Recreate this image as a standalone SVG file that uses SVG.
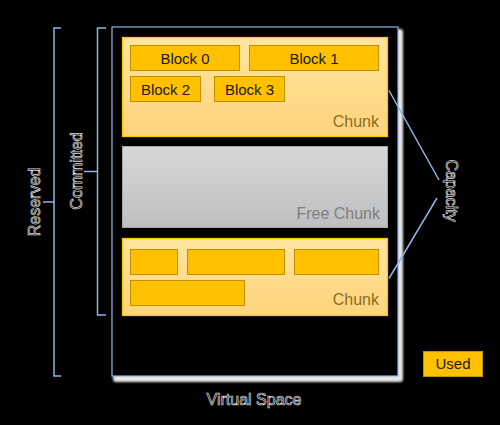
<svg xmlns="http://www.w3.org/2000/svg" width="500" height="425" viewBox="0 0 500 425">
<defs>
<linearGradient id="gChunk" x1="0" y1="0" x2="0" y2="1">
<stop offset="0" stop-color="#FFE4A0"/>
<stop offset="1" stop-color="#FFD47C"/>
</linearGradient>
<linearGradient id="gFree" x1="0" y1="0" x2="0" y2="1">
<stop offset="0" stop-color="#D6D7D8"/>
<stop offset="1" stop-color="#BEBFC0"/>
</linearGradient>
<filter id="blur" x="-5%" y="-5%" width="110%" height="110%">
<feGaussianBlur stdDeviation="1.2"/>
</filter>
</defs>
<style>
.chunk{fill:url(#gChunk);stroke:#FFC000;stroke-width:1.3}
.free{fill:url(#gFree);stroke:#A6A6A6;stroke-width:1}
.block{fill:#FFC000;stroke:#BF9000;stroke-width:1}
.btxt{font-family:"Liberation Sans",Arial,sans-serif;font-size:15px;fill:#1A1A1A;text-anchor:middle}
.ctxt{font-family:"Liberation Sans",Arial,sans-serif;font-size:16px;fill:#8A6D1E;text-anchor:end}
.ftxt{font-family:"Liberation Sans",Arial,sans-serif;font-size:16px;fill:#7F7F7F;text-anchor:end}
.otxt{font-family:"Liberation Sans",Arial,sans-serif;font-size:16px;fill:#000;stroke:#D9D9D9;stroke-width:0.7;text-anchor:middle}
.conn{fill:none;stroke:#8EB4E3;stroke-width:1.5}
</style>
<rect width="500" height="425" fill="#000"/>
<g id="virtual-space">
<rect x="113" y="29" width="290" height="353" rx="3" fill="#E6E6E6" filter="url(#blur)"/>
<rect x="112" y="27" width="286" height="349" fill="#000" stroke="#8EB4E3" stroke-width="1.2"/>
<text class="otxt" x="254" y="405">Virtual Space</text>
</g>
<g id="chunk-top">
<rect class="chunk" x="122.5" y="37.5" width="265" height="99"/>
<text class="ctxt" x="379" y="127">Chunk</text>
</g>
<g id="block0">
<rect class="block" x="130.5" y="45.5" width="109" height="25"/>
<text class="btxt" x="185" y="63.5">Block 0</text>
</g>
<g id="block1">
<rect class="block" x="249.5" y="45.5" width="129" height="25"/>
<text class="btxt" x="314" y="63.5">Block 1</text>
</g>
<g id="block2">
<rect class="block" x="130.5" y="76.5" width="70" height="25"/>
<text class="btxt" x="165.5" y="94.5">Block 2</text>
</g>
<g id="block3">
<rect class="block" x="214.5" y="76.5" width="70" height="25"/>
<text class="btxt" x="249.5" y="94.5">Block 3</text>
</g>
<g id="free-chunk">
<rect class="free" x="122.5" y="146.5" width="265" height="81"/>
<text class="ftxt" x="380" y="219">Free Chunk</text>
</g>
<g id="chunk-bottom">
<rect class="chunk" x="122.5" y="238.5" width="265" height="77"/>
<rect class="block" x="130.5" y="249.5" width="47" height="25"/>
<rect class="block" x="187.5" y="249.5" width="97" height="25"/>
<rect class="block" x="294.5" y="249.5" width="84" height="25"/>
<rect class="block" x="130.5" y="280.5" width="114" height="25"/>
<text class="ctxt" x="379" y="305">Chunk</text>
</g>
<g id="used-legend">
<rect class="block" x="423.5" y="351.5" width="59" height="25"/>
<text class="btxt" x="453" y="368.5">Used</text>
</g>
<g id="reserved">
<text class="otxt" transform="translate(39.5,202) rotate(-90)">Reserved</text>
</g>
<g id="committed">
<text class="otxt" transform="translate(82,171) rotate(-90)">Committed</text>
</g>
<g id="capacity">
<text class="otxt" transform="translate(445.5,190.5) rotate(90)">Capacity</text>
</g>
<g id="connectors">
<path class="conn" d="M61,28 H54 V376 H61 M54,202 H43"/>
<path class="conn" d="M106,28 H97.5 V315 H106 M97.5,171.5 H84"/>
<path class="conn" d="M389,90.5 L439,180 M437,198 L389,278.5"/>
</g>
</svg>
